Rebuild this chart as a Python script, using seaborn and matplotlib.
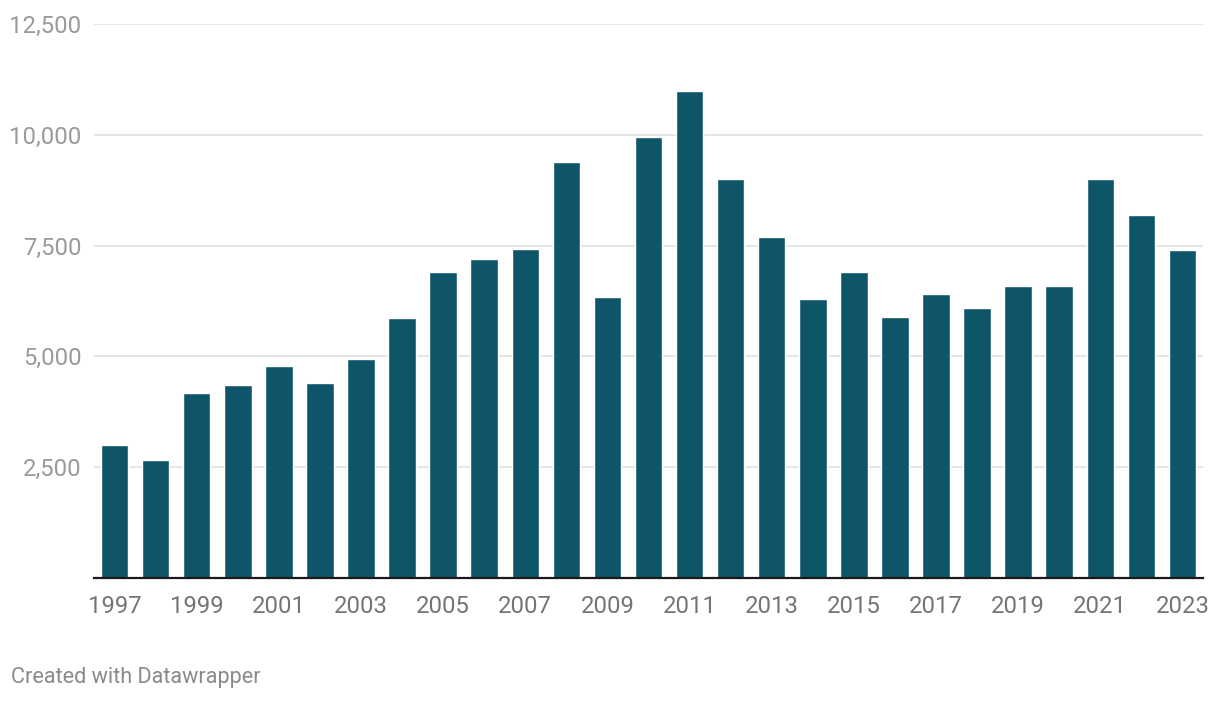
import numpy as np
import matplotlib
matplotlib.use("Agg")
import matplotlib.pyplot as plt
import seaborn as sns
import pandas as pd

# data
years = [str(y) for y in range(1997, 2024)]
values = [3000, 2660, 4170, 4350, 4780, 4400, 4940, 5870, 6900, 7200,
          7420, 9390, 6340, 9950, 10990, 9000, 7700, 6300, 6900, 5890,
          6410, 6090, 6590, 6590, 9000, 8190, 7400]
y_ticks = [2500, 5000, 7500, 10000, 12500]

df = pd.DataFrame({"year": years, "value": values})

sns.set_theme(style="white")
plt.rcParams['font.family'] = ['Roboto', 'DejaVu Sans']

fig = plt.figure(figsize=(12.2, 7.02), dpi=100)
ax = fig.add_axes([94 / 1220, 1 - 578 / 702, (1203 - 94) / 1220, (578 - 24) / 702])

sns.barplot(data=df, x="year", y="value", color="#0f5569", saturation=1,
            width=0.67, ax=ax, zorder=3)

ax.set_xlim(-0.5, len(years) - 0.5)
ax.set_ylim(0, 12500)
ax.set_yticks(y_ticks)
ax.set_yticklabels([f"{t:,}" for t in y_ticks])
ax.set_xticks(range(0, len(years), 2))
ax.set_xticklabels(years[::2])
ax.grid(axis="y", color="#e3e3e3", linewidth=1.3, zorder=0)
ax.set_axisbelow(True)
for s in ["top", "right", "left"]:
    ax.spines[s].set_visible(False)
ax.spines["bottom"].set_color("#1a1a1a")
ax.spines["bottom"].set_linewidth(1.6)
ax.spines["bottom"].set_zorder(4)
ax.tick_params(axis="y", length=0, pad=9, labelsize=17.2, labelcolor="#9a9a9a")
ax.tick_params(axis="x", length=0, pad=12, labelsize=17.2, labelcolor="#757575")
ax.set_xlabel("")
ax.set_ylabel("")

fig.text(11 / 1220, 1 - 677 / 702, "Created with Datawrapper", fontsize=15.6,
         color="#8a8a8a", va="center", ha="left")

fig.savefig("out.png", dpi=100)
